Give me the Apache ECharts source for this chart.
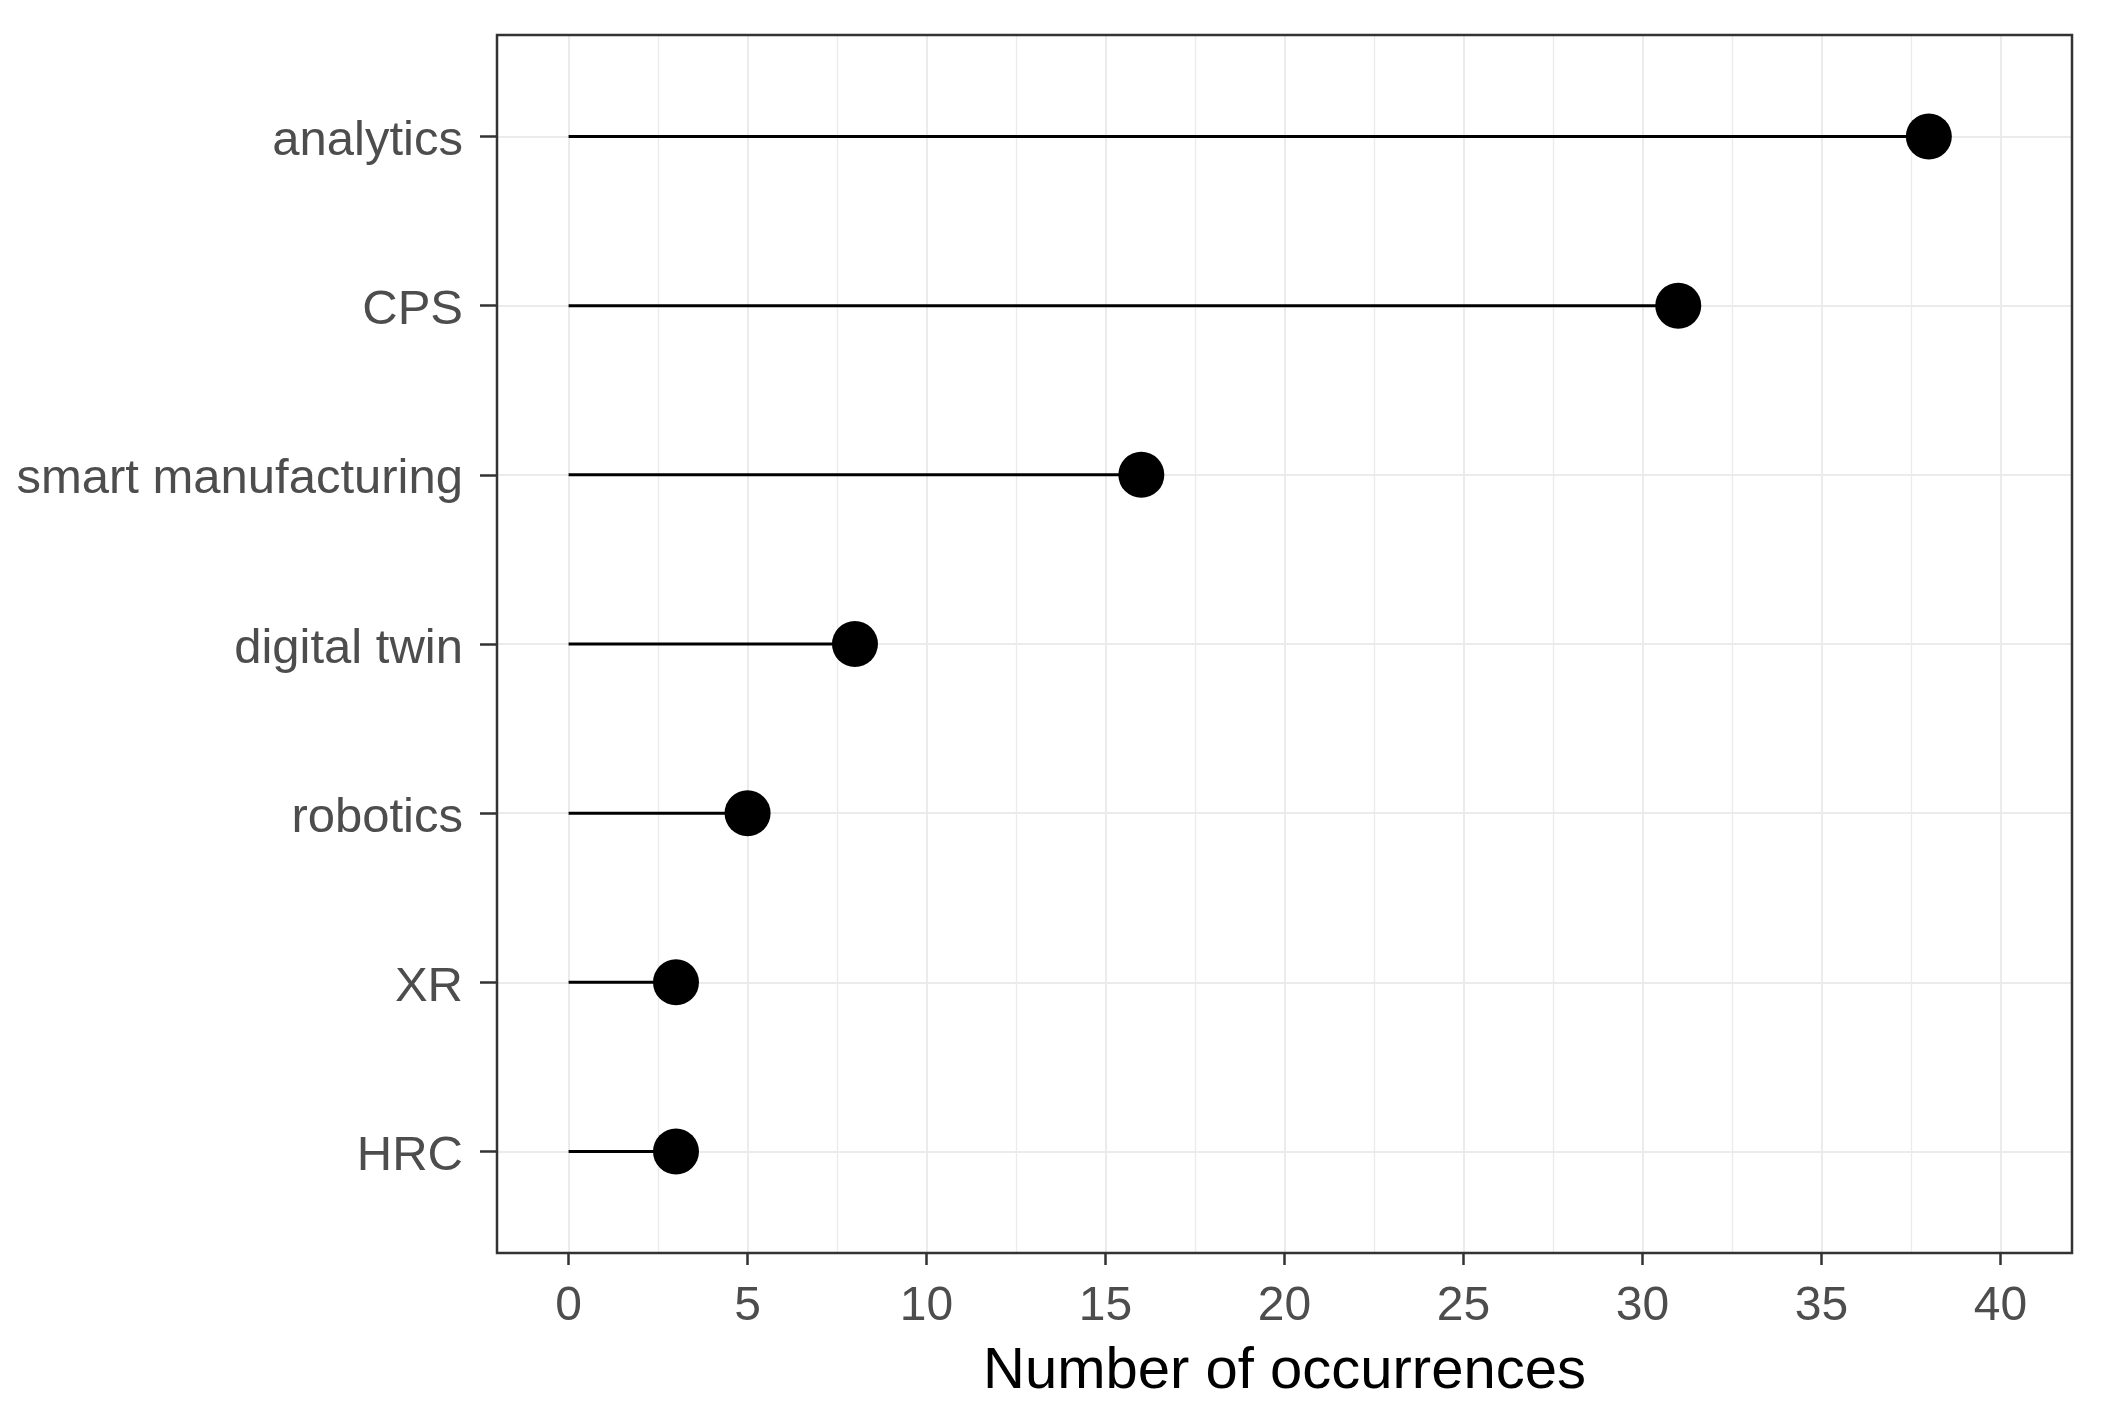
<!DOCTYPE html>
<html>
<head>
<meta charset="utf-8">
<script src="https://cdn.jsdelivr.net/npm/echarts@6/dist/echarts.min.js"></script>
<style>
  html, body { margin: 0; padding: 0; background: #fff; }
  #chart { width: 2103px; height: 1419px; }
</style>
</head>
<body>
<div id="chart"></div>
<script>
// categories top to bottom
const terms = ['analytics', 'CPS', 'smart manufacturing', 'digital twin', 'robotics', 'XR', 'HRC']
const occurrences = [38, 31, 16, 8, 5, 3, 3]
const xTicks = [0, 5, 10, 15, 20, 25, 30, 35, 40]

// panel geometry (ggplot-like expansion: x -2..42, y 0.6 band padding)
const panel = { left: 497, top: 35, width: 1575, height: 1218 }
const xMin = -2
const xMax = 42
const pxPerUnit = panel.width / (xMax - xMin)
const band = panel.height / (terms.length - 1 + 1.2)

const tickStyle = { color: '#333333', width: 2.5 }
const labelFont = 'Arial, "Liberation Sans", sans-serif'

const chart = echarts.init(document.getElementById('chart'))

chart.setOption({
  backgroundColor: '#fff',
  animation: false,
  grid: [
    // 0: vertical grid lines + x axis (x from 0 to 40)
    {
      left: panel.left + (xTicks[0] - xMin) * pxPerUnit,
      width: (xTicks[xTicks.length - 1] - xTicks[0]) * pxPerUnit,
      top: panel.top,
      height: panel.height
    },
    // 1: category rows + data, full panel width
    {
      left: panel.left,
      width: panel.width,
      top: panel.top + 0.6 * band,
      height: (terms.length - 1) * band
    },
    // 2: panel border
    {
      left: panel.left,
      width: panel.width,
      top: panel.top,
      height: panel.height,
      show: true,
      borderColor: '#333333',
      borderWidth: 2.5,
      backgroundColor: 'transparent',
      z: 10
    }
  ],
  xAxis: [
    {
      gridIndex: 0,
      type: 'value',
      min: 0,
      max: 40,
      interval: 5,
      name: 'Number of occurrences',
      nameLocation: 'middle',
      nameGap: 90,
      nameTextStyle: { fontSize: 58, color: '#000', fontFamily: labelFont },
      axisLine: { show: false, onZero: false },
      axisTick: { show: true, length: 12, lineStyle: tickStyle },
      axisLabel: { fontSize: 48, color: '#4D4D4D', fontFamily: labelFont, margin: 30 },
      splitLine: { show: true, lineStyle: { color: '#EBEBEB', width: 2 } },
      minorTick: { show: false, splitNumber: 2 },
      minorSplitLine: { show: true, lineStyle: { color: '#EBEBEB', width: 1.3 } }
    },
    {
      gridIndex: 1,
      type: 'value',
      min: xMin,
      max: xMax,
      show: false
    },
    {
      gridIndex: 2,
      type: 'value',
      min: 0,
      max: 1,
      show: false
    }
  ],
  yAxis: [
    {
      gridIndex: 0,
      type: 'value',
      min: 0,
      max: 1,
      show: false
    },
    {
      gridIndex: 1,
      type: 'category',
      data: terms,
      inverse: true,
      boundaryGap: false,
      axisLine: { show: false, onZero: false },
      axisTick: { show: true, length: 17, lineStyle: tickStyle },
      axisLabel: {
        fontSize: 49,
        color: '#4D4D4D',
        fontFamily: labelFont,
        margin: 34,
        verticalAlign: 'top',
        lineHeight: 10
      },
      splitLine: { show: true, lineStyle: { color: '#EBEBEB', width: 2 } }
    },
    {
      gridIndex: 2,
      type: 'value',
      min: 0,
      max: 1,
      show: false
    }
  ],
  series: [
    {
      type: 'bar',
      xAxisIndex: 1,
      yAxisIndex: 1,
      data: occurrences,
      barWidth: 3,
      itemStyle: { color: '#000' },
      z: 3
    },
    {
      type: 'scatter',
      xAxisIndex: 1,
      yAxisIndex: 1,
      data: occurrences.map((v, i) => [v, terms[i]]),
      symbol: 'circle',
      symbolSize: 46,
      itemStyle: { color: '#000', opacity: 1 },
      z: 4
    }
  ]
})
</script>
</body>
</html>
